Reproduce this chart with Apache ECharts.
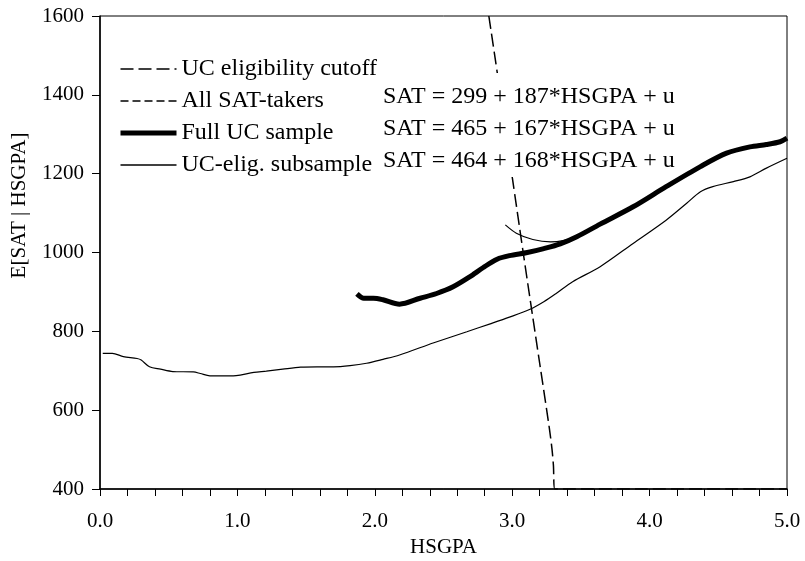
<!DOCTYPE html>
<html>
<head>
<meta charset="utf-8">
<script src="https://cdn.jsdelivr.net/npm/echarts@6/dist/echarts.min.js"></script>
<style>html,body{margin:0;padding:0;background:#fff;}#c{width:805px;height:561px;}</style>
</head>
<body>
<div id="c"></div>
<script>
// ---- data ----
var seriesNames = ['UC eligibility cutoff', 'All SAT-takers', 'Full UC sample', 'UC-elig. subsample'];
var formulas = ['SAT = 299 + 187*HSGPA + u', 'SAT = 465 + 167*HSGPA + u', 'SAT = 464 + 168*HSGPA + u'];
var xTicks = [0, 1, 2, 3, 4, 5];
var yTicks = [400, 600, 800, 1000, 1200, 1400, 1600];

var cutoff = [[2.83,1600],[2.89,1459],[3.00,1192],[3.08,1000],[3.13,882],[3.20,719],[3.27,555],[3.29,500],[3.30,460],[3.31,400],[5.0,400]];
var allTakers = [[0.02,744],[0.09,744],[0.17,736],[0.27,731],[0.30,727],[0.36,710],[0.44,704],[0.53,698],[0.68,697],[0.73,693],[0.80,687],[0.97,687],[1.02,689],[1.12,696],[1.21,699],[1.33,704],[1.46,709],[1.58,710],[1.70,710],[1.82,713],[1.94,719],[2.06,729],[2.18,740],[2.43,771],[2.67,799],[2.84,819],[2.98,836],[3.13,856],[3.23,875],[3.32,896],[3.44,926],[3.64,964],[3.88,1023],[4.12,1082],[4.27,1125],[4.37,1154],[4.46,1167],[4.61,1180],[4.73,1192],[4.85,1214],[5.0,1239]];
var fullUC = [[1.87,895],[1.92,884],[1.99,884],[2.06,880],[2.18,869],[2.33,884],[2.45,896],[2.57,913],[2.69,938],[2.79,962],[2.89,983],[2.98,992],[3.11,1000],[3.23,1010],[3.35,1022],[3.47,1040],[3.64,1072],[3.88,1116],[4.12,1167],[4.37,1218],[4.56,1252],[4.73,1268],[4.85,1274],[4.95,1281],[5.0,1290]];
var ucElig = [[2.95,1070],[3.03,1049],[3.15,1033],[3.28,1027],[3.37,1030],[3.47,1040]];

var FONT = 'Liberation Serif';
var chart = echarts.init(document.getElementById('c'), null, {renderer: 'canvas'});
var lineData = [cutoff, allTakers, fullUC, ucElig];
var lineStyles = [
  {color: '#000', width: 1.5, type: [13, 5]},
  {color: '#000', width: 1.2, type: 'solid'},
  {color: '#000', width: 5, type: 'solid'},
  {color: '#000', width: 1.2, type: 'solid'}
];
var series = lineData.map(function (d, i) {
  return {
    name: seriesNames[i], type: 'line', data: d, showSymbol: false, symbol: 'none',
    smooth: 0.3, lineStyle: lineStyles[i], itemStyle: {color: '#000'}, z: 2, animation: false
  };
});

chart.setOption({
  animation: false,
  grid: {left: 100, right: 18, top: 16, bottom: 72, show: true, borderColor: '#000', borderWidth: 1,
    backgroundColor: 'transparent', outerBoundsMode: 'none', containLabel: false},
  xAxis: {
    type: 'value', min: 0, max: 5, interval: 0.2,
    name: 'HSGPA', nameLocation: 'middle', nameGap: 48,
    nameTextStyle: {fontFamily: FONT, fontSize: 21, color: '#000'},
    axisLine: {lineStyle: {color: '#000', width: 1.5}},
    axisTick: {length: 7, lineStyle: {color: '#000', width: 1}},
    axisLabel: {
      fontFamily: FONT, fontSize: 21, color: '#000', margin: 22,
      formatter: function (v) {
        for (var k = 0; k < xTicks.length; k++) if (Math.abs(v - xTicks[k]) < 1e-6) return xTicks[k].toFixed(1);
        return '';
      }
    },
    splitLine: {show: false}
  },
  yAxis: {
    type: 'value', min: 400, max: 1600, interval: 200,
    name: 'E[SAT | HSGPA]', nameLocation: 'middle', nameGap: 70,
    nameTextStyle: {fontFamily: FONT, fontSize: 21, color: '#000', padding: [0, 0, 0, 94]},
    axisLine: {lineStyle: {color: '#000', width: 1.5}},
    axisTick: {length: 8, lineStyle: {color: '#000', width: 1}},
    axisLabel: {fontFamily: FONT, fontSize: 21, color: '#000', margin: 16,
      formatter: function (v) { return yTicks.indexOf(v) >= 0 ? String(v) : ''; }},
    splitLine: {show: false}
  },
  legend: {
    orient: 'vertical', left: 113, top: 52, itemWidth: 56, itemHeight: 14, itemGap: 8,
    selectedMode: false,
    itemStyle: {opacity: 0},
    textStyle: {fontFamily: FONT, fontSize: 24, color: '#000', lineHeight: 24},
    data: [
      {name: seriesNames[0], lineStyle: {type: [13, 5], width: 1.5, color: '#000'}},
      {name: seriesNames[1], lineStyle: {type: [8, 4], width: 1.5, color: '#000'}},
      {name: seriesNames[2], lineStyle: {width: 5, color: '#000'}},
      {name: seriesNames[3], lineStyle: {width: 1.5, color: '#000'}}
    ]
  },
  graphic: [
    {type: 'rect', z: 100, shape: {x: 440, y: 73, width: 200, height: 104}, style: {fill: '#fff'}, silent: true},
    {type: 'text', z: 101, left: 383, top: 85, style: {text: formulas[0], font: '24px "Liberation Serif"', fill: '#000'}},
    {type: 'text', z: 101, left: 383, top: 117, style: {text: formulas[1], font: '24px "Liberation Serif"', fill: '#000'}},
    {type: 'text', z: 101, left: 383, top: 149, style: {text: formulas[2], font: '24px "Liberation Serif"', fill: '#000'}}
  ],
  series: series
});
</script>
</body>
</html>
